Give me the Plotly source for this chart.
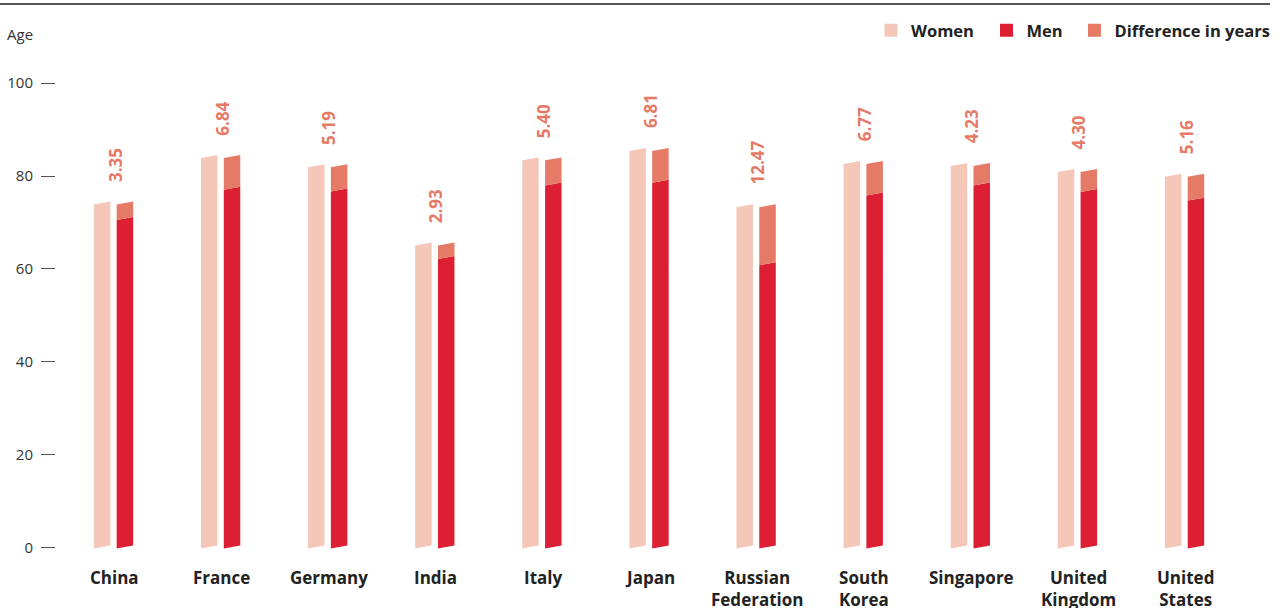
import plotly.graph_objects as go

countries = ["China", "France", "Germany", "India", "Italy", "Japan",
             "Russian<br>Federation", "South<br>Korea", "Singapore",
             "United<br>Kingdom", "United<br>States"]
women = [74.2, 84.2, 82.2, 65.4, 83.7, 85.7, 73.6, 82.9, 82.5, 81.2, 80.2]
difference = [3.35, 6.84, 5.19, 2.93, 5.40, 6.81, 12.47, 6.77, 4.23, 4.30, 5.16]
men = [round(w - d, 2) for w, d in zip(women, difference)]
diff_labels = [f"{d:.2f}" for d in difference]
y_ticks = [0, 20, 40, 60, 80, 100]

C_WOMEN = "#f4c7b9"
C_MEN = "#dc1f33"
C_DIFF = "#e57a66"
FONT = "Open Sans"

W, H = 1285, 608
ML, MR, MT, MB = 56, 15, 46, 51
PW, PH = W - ML - MR, H - MT - MB

OFF = 0.1065    # offset of each bar from category centre
HALF = 0.077    # half bar width
SLANT = 0.32    # half vertical slant (data units)


def polys(xcenters, bottoms, tops):
    xs, ys = [], []
    for xc, b, t in zip(xcenters, bottoms, tops):
        x0, x1 = xc - HALF, xc + HALF
        xs += [x0, x1, x1, x0, x0, None]
        ys += [b - SLANT, b + SLANT, t + SLANT, t - SLANT, b - SLANT, None]
    return xs, ys


def px_x(p):
    return (p - ML) / PW


def px_y(p):
    return 1 + (MT - p) / PH


idx = list(range(len(countries)))
wx = [i - OFF for i in idx]
mx = [i + OFF for i in idx]
base = [0.17] * len(idx)

fig = go.Figure()
x, y = polys(wx, base, women)
fig.add_trace(go.Scatter(x=x, y=y, fill="toself", fillcolor=C_WOMEN, mode="none",
                         showlegend=False, hoverinfo="skip"))
x, y = polys(mx, base, men)
fig.add_trace(go.Scatter(x=x, y=y, fill="toself", fillcolor=C_MEN, mode="none",
                         showlegend=False, hoverinfo="skip"))
x, y = polys(mx, men, women)
fig.add_trace(go.Scatter(x=x, y=y, fill="toself", fillcolor=C_DIFF, mode="none",
                         showlegend=False, hoverinfo="skip"))

legend_items = [("Women", C_WOMEN, "legend", 891),
                ("Men", C_MEN, "legend2", 1006.5),
                ("Difference in years", C_DIFF, "legend3", 1094.5)]
leg_cfg = {}
for name, col, lg, cx in legend_items:
    fig.add_trace(go.Scatter(x=[None], y=[None], mode="markers", name=name, legend=lg,
                             marker=dict(symbol="square", size=13, color=col)))
    leg_cfg[lg] = dict(orientation="h", x=px_x(cx - 20), xanchor="left",
                       y=px_y(30.5), yanchor="middle", itemwidth=30,
                       font=dict(family=FONT, size=16.5, color="#222222", weight="bold"),
                       bgcolor="rgba(0,0,0,0)")

# value labels
for i, w, lab in zip(idx, women, diff_labels):
    fig.add_annotation(x=i + 0.014, y=w, text=f"<b>{lab}</b>", textangle=-90,
                       showarrow=False, xanchor="center", yanchor="bottom", yshift=19,
                       font=dict(family=FONT, size=17, color=C_DIFF))

# category labels
for i, c in zip(idx, countries):
    fig.add_annotation(x=i + 0.01, y=0, text=f"<b>{c}</b>", showarrow=False,
                       xanchor="center", yanchor="top", yshift=-16,
                       font=dict(family=FONT, size=17, color="#222222"))

fig.add_annotation(xref="paper", yref="paper", x=px_x(5), y=px_y(34.5), text="Age",
                   showarrow=False, xanchor="left", yanchor="middle",
                   font=dict(family=FONT, size=15, color="#333333"))

fig.add_shape(type="line", xref="paper", yref="paper", x0=px_x(0), x1=px_x(1270),
              y0=px_y(4), y1=px_y(4), line=dict(color="#555555", width=2))

fig.update_layout(
    width=W, height=H,
    margin=dict(l=ML, r=MR, t=MT, b=MB, autoexpand=False),
    paper_bgcolor="white", plot_bgcolor="white",
    font=dict(family=FONT, size=15, color="#333333"),
    showlegend=True,
    xaxis=dict(range=[-0.537, 10.798], showticklabels=False, showgrid=False,
               zeroline=False, showline=False, ticks=""),
    yaxis=dict(range=[-2, 108], tickvals=y_ticks, showgrid=False, zeroline=False,
               showline=False, ticks="outside", ticklen=14, tickwidth=1.2,
               tickcolor="#555555", ticklabelstandoff=5,
               tickfont=dict(family=FONT, size=15, color="#333333")),
    **leg_cfg,
)

fig.write_html("out.html")
